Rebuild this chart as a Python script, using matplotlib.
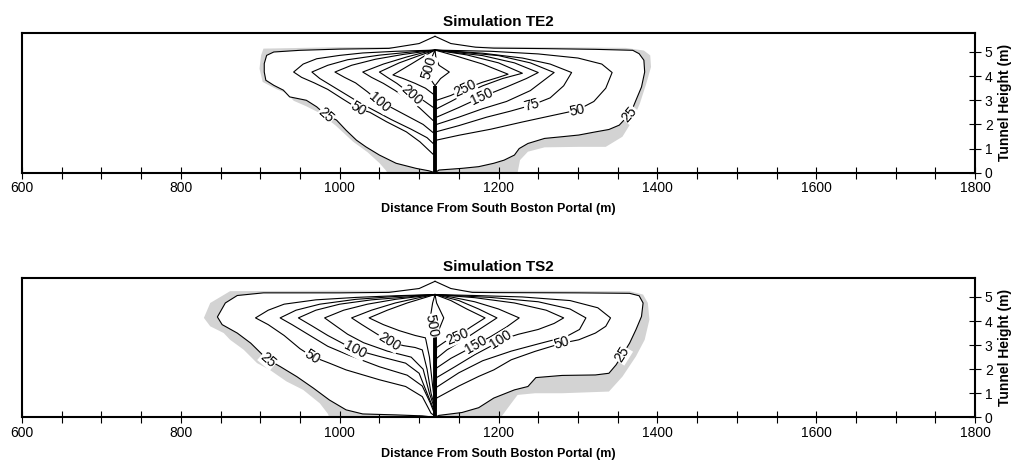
import matplotlib
matplotlib.use("Agg")
import matplotlib.pyplot as plt
import numpy as np
from matplotlib.ticker import MultipleLocator

plt.rcParams["font.family"] = ["Liberation Sans", "DejaVu Sans"]

X_RANGE = (600, 1800)
Y_RANGE = (0, 5.8)
FIRE_X = 1120
X_LABEL = "Distance From South Boston Portal (m)"
Y_LABEL = "Tunnel Height (m)"

# ---- Simulation TE2: contour traces (distance m, height m) ----
TE2_POLE_TOP = 3.6
TE2_C25 = [(1120, 5.65), (1100, 5.35), (1062, 5.15), (1000, 5.12), (950, 5.07), (917, 5.0),
           (908, 4.86), (905, 4.52), (905, 4.17), (907, 3.83), (917, 3.62), (929, 3.42),
           (937, 3.14), (958, 3.0), (971, 2.73), (983, 2.38), (996, 2.18), (1008, 1.76),
           (1021, 1.35), (1033, 1.07), (1050, 0.73), (1071, 0.39), (1096, 0.18), (1112, 0.08),
           (1120, 0.0), (1125, 0.11), (1154, 0.18), (1175, 0.25), (1194, 0.39), (1207, 0.52),
           (1220, 0.73), (1226, 1.0), (1237, 1.21), (1258, 1.42), (1280, 1.49), (1301, 1.56),
           (1322, 1.69), (1339, 1.79), (1352, 1.97), (1360, 2.25), (1367, 2.52), (1373, 3.0),
           (1380, 3.55), (1384, 4.17), (1383, 4.66), (1377, 4.93), (1369, 5.07), (1322, 5.11),
           (1258, 5.14), (1194, 5.16), (1171, 5.2), (1140, 5.35), (1120, 5.65)]
TE2_C50 = [(1120, 5.08), (1071, 5.03), (1029, 4.96), (1000, 4.86), (971, 4.72), (954, 4.5),
           (942, 4.17), (952, 3.95), (968, 3.72), (985, 3.45), (1004, 3.05), (1023, 2.66),
           (1038, 2.5), (1059, 2.11), (1084, 1.69), (1101, 1.28), (1118, 0.75), (1122, 1.35),
           (1150, 1.55), (1190, 1.8), (1230, 2.1), (1265, 2.35), (1299, 2.59), (1320, 2.95),
           (1335, 3.5), (1343, 4.15), (1330, 4.5), (1300, 4.75), (1250, 4.92), (1190, 5.03),
           (1120, 5.08)]
TE2_C75 = [(1120, 5.08), (1090, 5.0), (1050, 4.87), (1010, 4.68), (985, 4.45), (965, 4.17),
           (975, 3.9), (990, 3.6), (1005, 3.3), (1025, 2.9), (1045, 2.55), (1065, 2.2),
           (1090, 1.8), (1110, 1.45), (1118, 1.2), (1122, 1.7), (1150, 1.95), (1185, 2.3),
           (1215, 2.55), (1242, 2.8), (1265, 3.1), (1282, 3.6), (1292, 4.15), (1265, 4.5),
           (1230, 4.75), (1180, 4.95), (1140, 5.04), (1120, 5.08)]
TE2_C100 = [(1120, 5.08), (1080, 4.9), (1045, 4.7), (1015, 4.45), (994, 4.17), (1006, 3.95),
            (1020, 3.72), (1035, 3.35), (1050, 2.93), (1065, 2.7), (1085, 2.35), (1105, 2.0),
            (1118, 1.65), (1122, 2.0), (1150, 2.3), (1180, 2.65), (1210, 2.95), (1240, 3.4),
            (1270, 4.15), (1240, 4.55), (1200, 4.85), (1150, 5.0), (1120, 5.08)]
TE2_C150 = [(1120, 5.08), (1105, 4.97), (1085, 4.8), (1055, 4.5), (1029, 4.17), (1040, 3.95),
            (1055, 3.7), (1070, 3.4), (1085, 3.05), (1100, 2.7), (1118, 2.15), (1122, 2.3),
            (1150, 2.7), (1179, 3.14), (1210, 3.55), (1235, 3.9), (1250, 4.15), (1220, 4.55),
            (1180, 4.85), (1140, 5.0), (1120, 5.08)]
TE2_C200 = [(1120, 5.08), (1100, 4.85), (1075, 4.55), (1050, 4.17), (1060, 3.95), (1072, 3.7),
            (1082, 3.45), (1090, 3.21), (1105, 3.0), (1118, 2.7), (1122, 2.65), (1140, 2.95),
            (1160, 3.3), (1180, 3.6), (1205, 3.9), (1230, 4.12), (1200, 4.55), (1160, 4.88),
            (1120, 5.08)]
TE2_C250 = [(1120, 5.08), (1110, 4.9), (1090, 4.5), (1067, 4.05), (1080, 3.9), (1095, 3.7),
            (1108, 3.5), (1118, 3.25), (1122, 3.0), (1140, 3.2), (1158, 3.48), (1180, 3.75),
            (1200, 3.95), (1212, 4.08), (1180, 4.5), (1145, 4.85), (1120, 5.08)]
TE2_C500 = [(1120, 5.08), (1115, 4.7), (1110, 4.17), (1115, 3.85), (1120, 3.6), (1127, 3.9),
            (1138, 4.17), (1125, 4.45), (1121, 4.8), (1120, 5.08)]
TE2_GRAY = [(1000, 5.2), (904, 5.14), (901, 4.86), (899, 4.31), (903, 3.76), (921, 3.45),
            (933, 3.3), (942, 2.98), (958, 2.75), (975, 2.47), (995, 1.95), (1017, 1.28),
            (1035, 0.85), (1050, 0.4), (1058, 0.1), (1060, 0), (1224, 0), (1227, 0.52),
            (1237, 0.87), (1258, 1.05), (1301, 1.07), (1335, 1.07), (1356, 1.49), (1369, 2.18),
            (1378, 2.87), (1386, 3.69), (1392, 4.38), (1391, 4.86), (1383, 5.06), (1360, 5.17),
            (1200, 5.22)]
TE2_CONTOURS = [TE2_C25, TE2_C50, TE2_C75, TE2_C100, TE2_C150, TE2_C200, TE2_C250, TE2_C500]
TE2_LABELS = [("25", TE2_C25, 983, 2.38), ("50", TE2_C50, 1023, 2.66),
              ("100", TE2_C100, 1050, 2.93), ("200", TE2_C200, 1090, 3.21),
              ("500", TE2_C500, 1112, 4.35), ("250", TE2_C250, 1158, 3.48),
              ("150", TE2_C150, 1179, 3.14), ("75", TE2_C75, 1242, 2.8),
              ("50", TE2_C50, 1299, 2.59), ("25", TE2_C25, 1365, 2.42)]

# ---- Simulation TS2 ----
TS2_POLE_TOP = 3.4
TS2_C25 = [(1120, 5.65), (1100, 5.35), (1062, 5.19), (1000, 5.17), (904, 5.17), (871, 5.06),
           (856, 4.75), (846, 4.17), (852, 3.85), (871, 3.5), (888, 3.08), (904, 2.56),
           (910, 2.39), (925, 2.11), (946, 1.69), (967, 1.21), (987, 0.72), (1008, 0.31),
           (1029, 0.14), (1071, 0.1), (1104, 0.06), (1120, 0.0), (1125, 0.08), (1154, 0.2),
           (1175, 0.4), (1194, 0.8), (1220, 1.14), (1237, 1.28), (1247, 1.65), (1280, 1.74),
           (1322, 1.76), (1339, 1.83), (1348, 2.18), (1356, 2.6), (1365, 3.08), (1373, 3.64),
           (1380, 4.19), (1382, 4.75), (1377, 5.05), (1365, 5.15), (1300, 5.17), (1200, 5.18),
           (1167, 5.19), (1140, 5.35), (1120, 5.65)]
TS2_C50 = [(1120, 5.1), (1070, 5.05), (1020, 4.98), (970, 4.88), (930, 4.7), (910, 4.45),
           (894, 4.13), (910, 3.85), (930, 3.4), (950, 2.85), (965, 2.53), (987, 2.25),
           (1008, 1.97), (1050, 1.56), (1083, 1.28), (1104, 0.86), (1115, 0.17), (1120, 0.05),
           (1122, 0.8), (1150, 1.3), (1175, 1.7), (1194, 1.97), (1216, 2.39), (1246, 2.74),
           (1280, 3.08), (1301, 3.22), (1322, 3.5), (1335, 3.78), (1341, 4.13), (1325, 4.55),
           (1290, 4.85), (1230, 5.0), (1170, 5.06), (1120, 5.1)]
TS2_C75 = [(1120, 5.1), (1070, 5.02), (1020, 4.9), (975, 4.7), (945, 4.45), (925, 4.13),
           (940, 3.85), (960, 3.45), (985, 2.95), (1010, 2.6), (1050, 2.1), (1085, 1.75),
           (1104, 1.3), (1114, 0.6), (1120, 0.1), (1122, 1.25), (1150, 1.85), (1180, 2.35),
           (1216, 2.75), (1250, 3.05), (1285, 3.35), (1302, 3.65), (1310, 4.13), (1290, 4.5),
           (1250, 4.8), (1190, 4.98), (1120, 5.1)]
TS2_C100 = [(1120, 5.1), (1085, 5.0), (1040, 4.88), (1000, 4.7), (970, 4.45), (948, 4.13),
            (965, 3.8), (985, 3.4), (1005, 3.05), (1019, 2.81), (1050, 2.53), (1083, 2.25),
            (1100, 1.83), (1110, 1.0), (1120, 0.2), (1122, 1.65), (1145, 2.1), (1170, 2.6),
            (1190, 2.95), (1203, 3.22), (1225, 3.45), (1250, 3.65), (1270, 3.9), (1282, 4.13),
            (1260, 4.45), (1220, 4.75), (1170, 4.97), (1120, 5.1)]
TS2_C150 = [(1120, 5.1), (1100, 5.02), (1070, 4.9), (1035, 4.7), (1005, 4.45), (981, 4.13),
            (995, 3.8), (1010, 3.45), (1030, 3.1), (1060, 2.75), (1090, 2.5), (1105, 2.0),
            (1113, 1.0), (1120, 0.3), (1122, 2.05), (1140, 2.45), (1160, 2.8), (1171, 3.01),
            (1190, 3.35), (1210, 3.75), (1226, 4.13), (1200, 4.5), (1170, 4.8), (1140, 5.0),
            (1120, 5.1)]
TS2_C200 = [(1120, 5.1), (1100, 4.97), (1070, 4.75), (1040, 4.45), (1015, 4.13), (1028, 3.85),
            (1045, 3.5), (1062, 3.15), (1080, 2.98), (1095, 2.9), (1104, 2.8), (1110, 2.0),
            (1115, 1.0), (1120, 0.4), (1122, 2.45), (1135, 2.8), (1155, 3.2), (1178, 3.7),
            (1198, 4.13), (1175, 4.5), (1150, 4.85), (1130, 5.02), (1120, 5.1)]
TS2_C250 = [(1120, 5.1), (1108, 4.98), (1085, 4.75), (1060, 4.45), (1037, 4.13), (1055, 3.85),
            (1075, 3.6), (1095, 3.4), (1108, 3.3), (1113, 2.5), (1117, 1.3), (1120, 0.5),
            (1122, 2.9), (1133, 3.15), (1148, 3.36), (1165, 3.75), (1183, 4.13), (1160, 4.5),
            (1140, 4.85), (1120, 5.1)]
TS2_C500 = [(1120, 5.1), (1117, 4.75), (1114, 4.13), (1118, 3.4), (1122, 3.4), (1131, 4.13),
            (1122, 4.75), (1120, 5.1)]
TS2_GRAY = [(1000, 5.26), (862, 5.24), (837, 4.75), (829, 4.13), (837, 3.78), (854, 3.5),
            (862, 3.22), (879, 2.81), (896, 2.25), (912, 1.97), (933, 1.49), (954, 1.14),
            (975, 0.58), (985, 0.15), (987, 0), (1203, 0), (1216, 0.58), (1224, 0.93),
            (1246, 1.0), (1280, 1.0), (1339, 1.07), (1356, 1.69), (1373, 2.53), (1384, 3.22),
            (1390, 4.06), (1388, 4.75), (1382, 5.1), (1365, 5.24), (1200, 5.26)]
TS2_CONTOURS = [TS2_C25, TS2_C50, TS2_C75, TS2_C100, TS2_C150, TS2_C200, TS2_C250, TS2_C500]
TS2_LABELS = [("25", TS2_C25, 910, 2.39), ("50", TS2_C50, 965, 2.53),
              ("100", TS2_C100, 1019, 2.81), ("200", TS2_C200, 1062, 3.15),
              ("500", TS2_C500, 1115.5, 3.8), ("250", TS2_C250, 1148, 3.36),
              ("150", TS2_C150, 1171, 3.01), ("100", TS2_C100, 1203, 3.22),
              ("50", TS2_C50, 1280, 3.08), ("25", TS2_C25, 1356, 2.6)]


def segment_angle(ax, line, x, y):
    """Screen angle of the contour segment closest to (x, y)."""
    pts = ax.transData.transform(np.array(line, dtype=float))
    p = ax.transData.transform((x, y))
    a, d = pts[:-1], pts[1:] - pts[:-1]
    t = np.clip(((p - a) * d).sum(1) / np.maximum((d * d).sum(1), 1e-9), 0, 1)
    dist = np.hypot(*(a + t[:, None] * d - p).T)
    dx, dy = d[dist.argmin()]
    ang = np.degrees(np.arctan2(dy, dx))
    if ang >= 90:
        ang -= 180
    elif ang < -90:
        ang += 180
    return ang


def draw_panel(ax, title, contours, gray, pole_top, labels):
    ax.set_xlim(*X_RANGE)
    ax.set_ylim(*Y_RANGE)

    gx, gy = zip(*gray)
    ax.fill(gx, gy, color="#d3d3d3", lw=0, zorder=1)
    wx, wy = zip(*contours[0])
    ax.fill(wx, wy, color="white", lw=0, zorder=2)
    for line in contours:
        xs, ys = zip(*line)
        ax.plot(xs, ys, color="black", lw=0.8, zorder=3)
    ax.plot([FIRE_X, FIRE_X], [0, pole_top], color="black", lw=2.8,
            solid_capstyle="butt", zorder=4)

    for text, line, x, y in labels:
        ax.text(x, y, text, rotation=segment_angle(ax, line, x, y), rotation_mode="anchor",
                ha="center", va="center", fontsize=10, zorder=5,
                bbox=dict(boxstyle="square,pad=0.03", fc="white", ec="none"))

    ax.xaxis.set_major_locator(MultipleLocator(200))
    ax.xaxis.set_minor_locator(MultipleLocator(50))
    ax.tick_params(axis="x", which="both", direction="inout", length=8, width=0.8,
                   labelsize=10, pad=2)
    ax.yaxis.tick_right()
    ax.yaxis.set_label_position("right")
    ax.set_yticks(range(6))
    ax.tick_params(axis="y", direction="inout", length=8, width=0.8, labelsize=10, pad=3)
    for spine in ax.spines.values():
        spine.set_linewidth(1.5)

    ax.set_title(title, fontweight="bold", fontsize=11, pad=5)
    ax.set_xlabel(X_LABEL, fontweight="bold", fontsize=9, labelpad=6)
    ax.set_ylabel(Y_LABEL, fontweight="bold", fontsize=10, labelpad=4)


fig = plt.figure(figsize=(10.34, 4.69), dpi=100)
ax_te = fig.add_axes([0.0213, 0.6318, 0.9217, 0.2985])
ax_ts = fig.add_axes([0.0213, 0.1102, 0.9217, 0.2977])
draw_panel(ax_te, "Simulation TE2", TE2_CONTOURS, TE2_GRAY, TE2_POLE_TOP, TE2_LABELS)
draw_panel(ax_ts, "Simulation TS2", TS2_CONTOURS, TS2_GRAY, TS2_POLE_TOP, TS2_LABELS)

fig.savefig("out.png", dpi=100, facecolor="white")
